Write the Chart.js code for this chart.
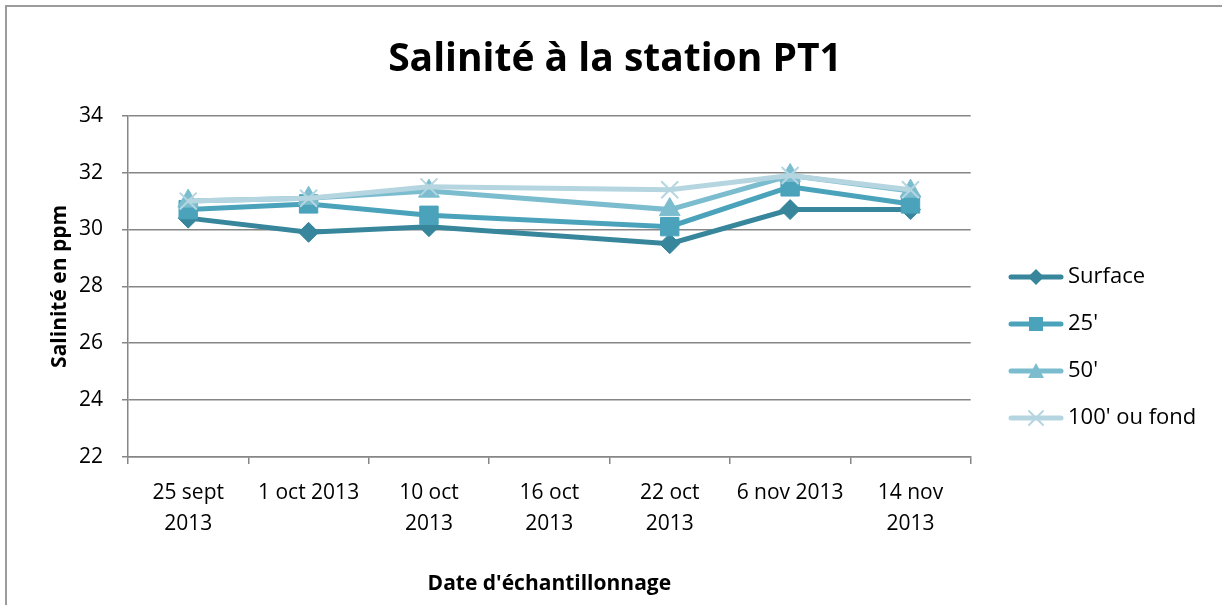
<!DOCTYPE html>
<html>
<head>
<meta charset="utf-8">
<script src="https://cdn.jsdelivr.net/npm/chart.js@4/dist/chart.umd.min.js"></script>
<style>
  body { margin: 0; background: #fff; overflow: hidden; }
  #wrap { position: relative; width: 1222px; height: 605px; overflow: hidden; }
  #frame { position: absolute; left: 5px; top: 5px; width: 1240px; height: 640px; border: 2px solid #9c9c9c; }
  canvas { position: absolute; left: 0; top: 0; }
</style>
</head>
<body>
<div id="wrap">
  <div id="frame"></div>
  <canvas id="chart1" width="1222" height="605"></canvas>
</div>
<script>
// Salinité à la station PT1

const ctx1 = document.getElementById("chart1").getContext("2d")

const dates = [["25 sept", "2013"], "1 oct 2013", ["10 oct", "2013"], ["16 oct", "2013"], ["22 oct", "2013"], "6 nov 2013", ["14 nov", "2013"]]
const surface = [30.4, 29.9, 30.1, null, 29.5, 30.7, 30.7]
const depth25 = [30.7, 30.9, 30.5, null, 30.1, 31.5, 30.9]
const depth50 = [31.0, 31.1, 31.35, null, 30.7, 31.9, 31.35]
const depth100 = [31.0, 31.1, 31.5, null, 31.4, 31.9, 31.4]
const seriesNames = ["Surface", "25'", "50'", "100' ou fond"]
const yTicks = { min: 22, max: 34, step: 2 }

const colors = ['#37869b', '#4aa3bb', '#7bbdcf', '#b5d6e0']
const markers = ['rectRot', 'rect', 'triangle', 'crossRot']
const radii = [10, 13, 12, 12]
const font = "'Open Sans', sans-serif"

// legend swatch: line with marker in the middle
const legendSwatch = (color, marker) => {
    const c = document.createElement('canvas')
    c.width = 56
    c.height = 24
    const g = c.getContext('2d')
    g.strokeStyle = color
    g.fillStyle = color
    g.lineWidth = 5
    g.lineCap = 'round'
    g.beginPath(); g.moveTo(3, 12); g.lineTo(53, 12); g.stroke()
    g.beginPath()
    if (marker === 'rectRot') {
        g.moveTo(28, 4); g.lineTo(36, 12); g.lineTo(28, 20); g.lineTo(20, 12); g.closePath(); g.fill()
    } else if (marker === 'rect') {
        g.fillRect(21, 5, 14, 14)
    } else if (marker === 'triangle') {
        g.moveTo(28, 4); g.lineTo(36, 19); g.lineTo(20, 19); g.closePath(); g.fill()
    } else {
        g.lineWidth = 2
        g.moveTo(21, 5); g.lineTo(35, 19); g.moveTo(35, 5); g.lineTo(21, 19); g.stroke()
    }
    return c
}

const makeSet = (label, data, i) => ({
    label: label,
    data: data,
    borderColor: colors[i],
    backgroundColor: colors[i],
    borderWidth: 5,
    pointStyle: markers[i],
    pointRadius: radii[i],
    pointBorderWidth: i === 3 ? 2 : 1,
    pointBackgroundColor: colors[i],
    pointBorderColor: colors[i],
    spanGaps: true,
    tension: 0,
    fill: false
})

// move the legend down and right a little, like the spreadsheet does
const legendShift = {
    id: 'legendShift',
    afterLayout(chart) {
        const lg = chart.legend
        const dx = 1015 - (lg.left + 25)
        const dy = 40
        lg.left += dx; lg.right += dx
        lg.top += dy; lg.bottom += dy
    }
}

const salinityChart = new Chart(ctx1, {
    type: 'line',
    data: {
        labels: dates,
        datasets: [
            makeSet(seriesNames[3], depth100, 3),
            makeSet(seriesNames[2], depth50, 2),
            makeSet(seriesNames[1], depth25, 1),
            makeSet(seriesNames[0], surface, 0)
        ]
    },
    plugins: [legendShift],
    options: {
        responsive: false,
        animation: false,
        layout: { padding: { left: 43, right: 35, top: 14, bottom: 4 } },
        plugins: {
            title: {
                display: true,
                text: 'Salinité à la station PT1',
                color: '#000',
                font: { family: font, size: 39, weight: 'bold' },
                padding: { top: 22, bottom: 33 }
            },
            legend: {
                position: 'right',
                labels: {
                    usePointStyle: true,
                    pointStyleWidth: 42,
                    color: '#000',
                    font: { family: font, size: 22 },
                    padding: 25,
                    generateLabels: chart => chart.data.datasets.map((ds, i) => ({
                        text: ds.label,
                        pointStyle: legendSwatch(colors[3 - i], markers[3 - i]),
                        fillStyle: colors[3 - i],
                        strokeStyle: colors[3 - i],
                        lineWidth: 0,
                        datasetIndex: i
                    })).reverse()
                }
            },
            tooltip: { enabled: false }
        },
        scales: {
            x: {
                offset: true,
                grid: { offset: true, drawOnChartArea: false, color: '#868686', lineWidth: 1.5, tickLength: 7 },
                border: { color: '#868686', width: 1.5 },
                ticks: { color: '#000', font: { family: font, size: 21, lineHeight: 1.45 }, maxRotation: 0, autoSkip: false, padding: 14 },
                title: {
                    display: true,
                    text: "Date d'échantillonnage",
                    color: '#000',
                    font: { family: font, size: 21, weight: 'bold' },
                    padding: { top: 19, bottom: 4 }
                }
            },
            y: {
                min: yTicks.min,
                max: yTicks.max,
                afterFit: s => { s.width = 85 },
                ticks: { stepSize: yTicks.step, color: '#000', font: { family: font, size: 21 }, padding: 19 },
                grid: { color: '#868686', lineWidth: 1.5, tickLength: 6 },
                border: { color: '#868686', width: 1.5 },
                title: {
                    display: true,
                    text: 'Salinité en ppm',
                    color: '#000',
                    font: { family: font, size: 21, weight: 'bold' },
                    padding: { top: 4, bottom: 7 }
                }
            }
        }
    }
})
</script>
</body>
</html>
